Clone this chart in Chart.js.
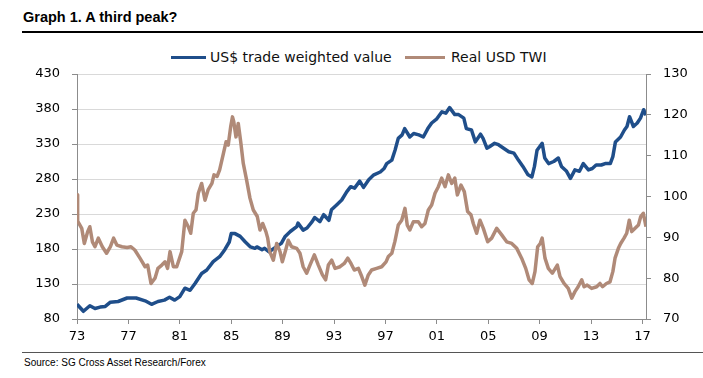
<!DOCTYPE html>
<html><head><meta charset="utf-8">
<script src="https://cdn.jsdelivr.net/npm/chart.js@4.4.0/dist/chart.umd.min.js"></script>
<style>
html,body{margin:0;padding:0;background:#fff;width:703px;height:378px;overflow:hidden;position:relative;}
#title{position:absolute;left:23px;top:9px;font:bold 14.5px "Liberation Sans",Arial,sans-serif;color:#000;white-space:nowrap;}
#rule1{position:absolute;left:22px;top:31px;width:681px;height:2px;background:#000;}
#rule2{position:absolute;left:22px;top:352px;width:681px;height:1px;background:#555;}
#source{position:absolute;left:24px;top:357px;font:10px "Liberation Sans",Arial,sans-serif;color:#000;white-space:nowrap;}
#wrap{position:absolute;left:0;top:40px;width:703px;height:310px;}
.lg{position:absolute;top:48px;height:18px;font:14px "DejaVu Sans",sans-serif;color:#111;white-space:nowrap;line-height:18px;}
.sw{position:absolute;height:3.5px;top:55.5px;}
</style></head>
<body>
<div id="title">Graph 1. A third peak?</div>
<div id="rule1"></div>
<div class="sw" id="sw1" style="left:171px;width:35px;background:#1F4E8A"></div>
<div class="lg" id="lg1" style="left:210px"></div>
<div class="sw" id="sw2" style="left:405px;width:40px;background:#B08A78"></div>
<div class="lg" id="lg2" style="left:451px"></div>
<div id="wrap"><canvas id="c"></canvas></div>
<div id="rule2"></div>
<div id="source">Source: SG Cross Asset Research/Forex</div>
<script>
const seriesNames = ["US$ trade weighted value", "Real USD TWI"];
const tickYears = [1973,1977,1981,1985,1989,1993,1997,2001,2005,2009,2013,2017];

const tradeYears = [1973.0,1973.5,1974.0,1974.4,1974.8,1975.2,1975.6,1976.2,1976.9,1977.6,1978.3,1978.8,1979.3,1979.8,1980.2,1980.6,1981.0,1981.4,1981.8,1982.2,1982.7,1983.1,1983.6,1984.1,1984.5,1984.85,1985.0,1985.3,1985.7,1986.1,1986.5,1986.85,1987.0,1987.4,1987.6,1987.95,1988.5,1988.9,1989.2,1989.6,1990.1,1990.2,1990.6,1990.9,1991.3,1991.5,1991.9,1992.2,1992.6,1992.8,1993.2,1993.6,1994.0,1994.3,1994.6,1995.0,1995.3,1995.7,1996.1,1996.6,1996.9,1997.1,1997.5,1997.75,1998.0,1998.3,1998.5,1998.9,1999.2,1999.6,1999.95,2000.3,2000.6,2001.0,2001.4,2001.7,2002.0,2002.4,2002.7,2003.1,2003.3,2003.7,2004.0,2004.4,2004.6,2004.9,2005.1,2005.5,2005.8,2006.2,2006.6,2007.0,2007.35,2007.7,2008.1,2008.4,2008.6,2008.8,2009.2,2009.4,2009.7,2010.1,2010.46,2010.7,2011.1,2011.4,2011.75,2012.1,2012.4,2012.8,2013.1,2013.4,2013.8,2014.1,2014.5,2014.7,2014.9,2015.3,2015.6,2015.8,2016.0,2016.3,2016.6,2016.85,2017.1,2017.28];
const tradeValues = [101,91,99,95,97,98,104,105,110,110,106,101,105,107,111,107,112,124,121,131,145,150,162,169,179,190,202,202,198,190,183,181,183,179,181,176,183,188,198,205,212,217,207,210,219,225,219,229,221,236,243,250,262,269,267,277,268,279,286,290,295,302,307,321,338,343,352,340,345,343,340,352,360,366,376,374,382,372,372,367,352,350,333,344,338,324,326,331,329,324,319,317,307,298,286,283,298,321,331,310,302,305,310,298,291,281,293,291,302,293,295,300,300,302,302,312,333,340,350,355,369,355,360,367,379,371];

const realYears = [1973.0,1973.05,1973.37,1973.57,1973.83,1974.0,1974.2,1974.4,1974.66,1974.97,1975.3,1975.6,1975.85,1976.1,1976.5,1976.9,1977.2,1977.5,1977.9,1978.3,1978.5,1978.76,1979.07,1979.3,1979.6,1979.85,1980.05,1980.24,1980.5,1980.76,1981.15,1981.4,1981.66,1981.85,1982.05,1982.26,1982.44,1982.7,1982.96,1983.2,1983.5,1983.66,1983.9,1984.1,1984.4,1984.6,1984.77,1984.96,1985.1,1985.2,1985.37,1985.55,1985.74,1985.94,1986.2,1986.46,1986.72,1987.03,1987.24,1987.45,1987.7,1987.84,1988.0,1988.28,1988.54,1988.8,1988.98,1989.24,1989.44,1989.7,1990.1,1990.35,1990.6,1990.87,1991.13,1991.47,1991.78,1992.1,1992.35,1992.56,1992.82,1993.08,1993.47,1993.8,1994.07,1994.32,1994.58,1994.9,1995.16,1995.4,1995.67,1995.93,1996.32,1996.71,1997.05,1997.23,1997.5,1997.74,1998.0,1998.27,1998.52,1998.7,1998.9,1999.17,1999.56,1999.82,2000.08,2000.34,2000.6,2000.86,2001.12,2001.38,2001.64,2001.9,2002.16,2002.4,2002.6,2002.88,2003.14,2003.4,2003.66,2003.84,2004.1,2004.36,2004.62,2004.96,2005.27,2005.66,2006.05,2006.44,2006.83,2007.22,2007.6,2007.92,2008.18,2008.43,2008.64,2008.85,2009.05,2009.2,2009.42,2009.68,2009.99,2010.07,2010.38,2010.59,2010.9,2011.23,2011.5,2011.75,2012.0,2012.28,2012.46,2012.7,2013.05,2013.44,2013.7,2013.9,2014.2,2014.48,2014.7,2014.87,2015.13,2015.31,2015.57,2015.78,2015.98,2016.17,2016.43,2016.69,2016.87,2017.07,2017.28];
const realValues = [100.4,94,92.2,88.5,91.4,92.6,88.9,87.7,89.8,87.7,86.1,87.7,89.8,88.1,87.7,87.5,87.7,86.9,84.9,82.8,83.2,78.7,80.0,82.4,83.2,84.0,82.4,86.5,82.8,82.8,86.5,94.2,92.6,91.0,95.9,96.7,100.8,103.2,99.1,101.6,103.2,105.3,104.9,106.5,110.6,113.4,112.6,117.1,119.5,118.3,114.6,117.9,113.4,108.1,104.0,99.6,96.7,95.1,91.8,93.4,91.4,89.8,86.5,84.4,88.5,86.5,84.0,86.9,89.3,87.7,87.3,86.1,82.8,81.2,83.2,85.7,83.2,80.8,79.6,83.2,84.4,82.4,82.8,83.6,84.9,83.6,82.0,82.4,80.4,78.3,80.8,82.0,82.4,82.8,84.0,85.3,86.1,89.0,93.0,94.2,97.1,93.0,91.8,93.8,93.8,92.6,93.4,96.7,97.9,100.8,102.4,104.5,102.4,105.3,103.2,104.5,100.4,102.8,101.2,96.3,95.5,93.4,91.0,94.2,92.2,88.9,89.8,92.2,90.6,88.9,88.5,87.3,84.9,82.4,79.6,78.7,81.6,87.7,88.5,89.8,84.9,82.4,81.2,81.6,83.2,80.4,78.7,77.5,75.1,76.7,77.9,79.6,77.9,78.3,77.5,77.9,78.7,77.9,78.7,79.1,81.6,84.9,87.3,88.5,89.8,91.0,94.2,91.4,92.2,93.0,95.1,95.9,92.6];

const blue = '#1F4E8A', brown = '#B08A78';
document.getElementById('lg1').textContent = seriesNames[0];
document.getElementById('lg2').textContent = seriesNames[1];

const tickFont = {family: '"DejaVu Sans", sans-serif', size: 13};
new Chart(document.getElementById('c'), {
  type: 'line',
  data: {
    datasets: [
      {label: seriesNames[0], data: tradeYears.map((x,i)=>({x, y: tradeValues[i]})), yAxisID: 'y', borderColor: blue, backgroundColor: blue, borderWidth: 3.5, pointRadius: 0, tension: 0, order: 1, borderJoinStyle: 'round'},
      {label: seriesNames[1], data: realYears.map((x,i)=>({x, y: realValues[i]})), yAxisID: 'y1', borderColor: brown, backgroundColor: brown, borderWidth: 3.5, pointRadius: 0, tension: 0, order: 0, borderJoinStyle: 'round'}
    ]
  },
  options: {
    responsive: true, maintainAspectRatio: false, animation: false, devicePixelRatio: 1,
    layout: {padding: {top: 34, left: 0, right: 0, bottom: 0}},
    plugins: {legend: {display: false}, tooltip: {enabled: false}},
    scales: {
      x: {
        type: 'linear', min: 1973, max: 2017.28,
        afterBuildTicks: s => { s.ticks = tickYears.map(v => ({value: v})); },
        afterFit: s => { s.height = 31; },
        ticks: {autoSkip: false, maxRotation: 0, padding: 5, color: '#000', font: tickFont,
          callback: v => String(Math.round(v) % 100).padStart(2, '0')},
        grid: {drawOnChartArea: false, tickLength: 5, color: '#8c8c8c'},
        border: {color: '#8c8c8c', width: 1}
      },
      y: {
        position: 'left', min: 80, max: 430,
        afterFit: s => { s.width = 77; },
        ticks: {stepSize: 50, padding: 12, color: '#000', font: tickFont},
        grid: {color: '#d9d9d9', tickColor: '#8c8c8c', tickLength: 5},
        border: {color: '#8c8c8c', width: 1}
      },
      y1: {
        position: 'right', min: 70, max: 130,
        afterFit: s => { s.width = 57; },
        ticks: {stepSize: 10, padding: 12, color: '#000', font: tickFont},
        grid: {drawOnChartArea: false, color: '#8c8c8c', tickLength: 5},
        border: {color: '#8c8c8c', width: 1}
      }
    }
  }
});
</script>
</body></html>
